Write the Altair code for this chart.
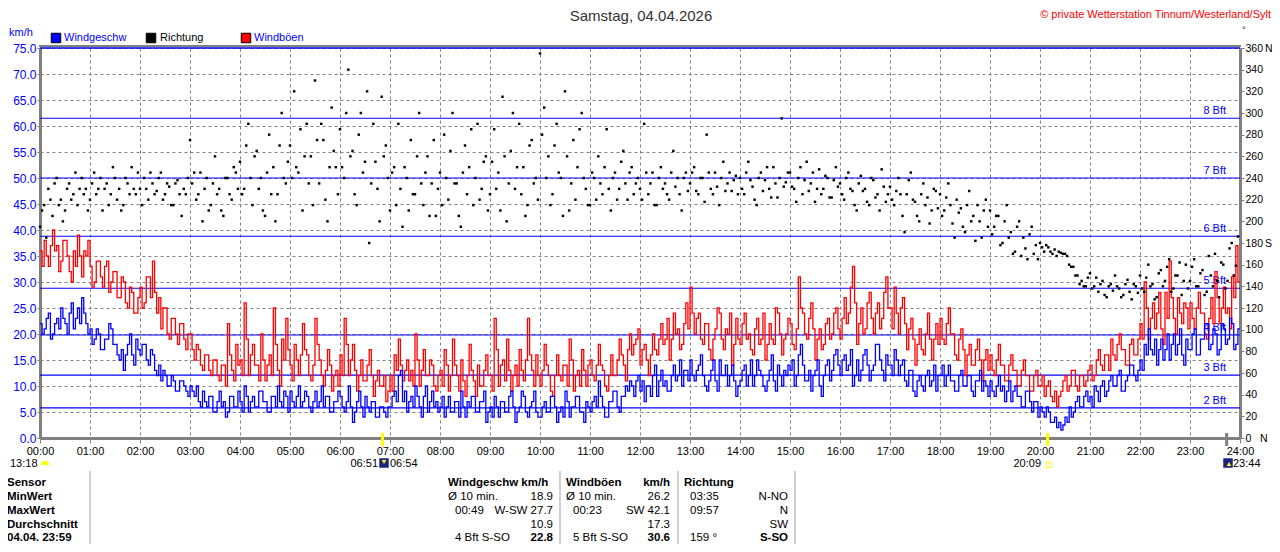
import altair as alt
import pandas as pd

FONT = "Liberation Sans"
BLUE = "#0000ff"
RED = "#ff0000"
GREY = "#808080"
X0, Y0 = 40, 48  # page position of the plot origin

# readings every 2.5 minutes, one row per hour (00:00 .. 23:57:30)
speed_rows = [
    [22, 20, 21, 23, 24, 19, 20, 22, 23, 21, 25, 23, 22, 20, 24, 26, 21, 23, 25, 22, 27, 24, 22, 20],
    [21, 18, 19, 21, 20, 17, 17, 19, 19, 22, 21, 18, 18, 16, 15, 17, 13, 16, 18, 20, 16, 14, 19, 17],
    [16, 18, 18, 15, 14, 17, 16, 13, 12, 14, 11, 13, 12, 10, 10, 12, 11, 9, 9, 11, 11, 10, 9, 8],
    [10, 9, 8, 10, 7, 6, 9, 7, 6, 8, 8, 5, 5, 7, 9, 6, 7, 4, 5, 8, 8, 6, 6, 9],
    [7, 5, 10, 8, 5, 7, 8, 6, 6, 9, 9, 7, 7, 5, 5, 8, 8, 6, 10, 7, 6, 9, 8, 5],
    [9, 7, 6, 8, 10, 6, 7, 9, 8, 6, 5, 7, 9, 6, 7, 10, 6, 8, 8, 5, 5, 7, 7, 9],
    [8, 6, 5, 7, 10, 6, 3, 5, 7, 9, 6, 4, 8, 6, 5, 7, 7, 4, 4, 6, 6, 5, 4, 6],
    [6, 8, 9, 7, 12, 13, 7, 9, 5, 7, 8, 6, 10, 8, 6, 4, 8, 10, 5, 7, 9, 6, 7, 5],
    [6, 8, 4, 6, 8, 5, 5, 7, 7, 4, 9, 6, 4, 7, 6, 8, 8, 5, 5, 7, 7, 9, 3, 5],
    [6, 4, 8, 6, 4, 7, 7, 5, 5, 8, 9, 6, 3, 5, 6, 9, 8, 5, 4, 6, 7, 9, 5, 4],
    [4, 6, 7, 5, 5, 8, 8, 6, 3, 5, 6, 4, 9, 7, 4, 6, 6, 8, 8, 5, 5, 3, 7, 6],
    [5, 7, 8, 6, 11, 8, 6, 4, 4, 7, 7, 9, 9, 6, 5, 8, 8, 10, 9, 11, 10, 8, 11, 12],
    [9, 11, 7, 10, 10, 8, 12, 14, 8, 11, 13, 10, 11, 9, 9, 12, 14, 11, 12, 15, 10, 13, 13, 11],
    [15, 12, 11, 13, 14, 16, 12, 10, 9, 11, 13, 15, 11, 9, 15, 12, 12, 14, 10, 12, 14, 11, 8, 10],
    [11, 13, 14, 10, 12, 15, 10, 12, 15, 13, 12, 10, 9, 11, 13, 16, 11, 9, 14, 12, 10, 13, 12, 14],
    [13, 15, 10, 12, 16, 18, 14, 11, 11, 13, 9, 12, 13, 15, 10, 8, 12, 14, 15, 11, 13, 16, 17, 14],
    [12, 15, 16, 13, 14, 17, 10, 12, 15, 11, 13, 16, 17, 14, 11, 13, 14, 18, 18, 15, 13, 11, 16, 14],
    [14, 12, 17, 15, 12, 14, 15, 11, 10, 13, 13, 9, 8, 11, 12, 10, 9, 12, 13, 10, 11, 14, 9, 12],
    [12, 14, 10, 12, 14, 11, 11, 9, 9, 12, 13, 10, 10, 12, 12, 9, 8, 11, 11, 13, 9, 11, 10, 8],
    [11, 9, 8, 10, 12, 9, 10, 7, 9, 11, 7, 9, 10, 8, 8, 6, 6, 9, 9, 7, 5, 7, 7, 4],
    [6, 5, 4, 6, 5, 3, 3, 4, 2, 3, 1.5, 2.5, 4, 3, 6, 4, 5, 7, 8, 6, 6, 8, 9, 7],
    [8, 6, 10, 9, 7, 10, 11, 8, 9, 11, 12, 10, 10, 12, 13, 9, 9, 11, 12, 14, 14, 12, 11, 13],
    [15, 13, 18, 16, 21, 17, 16, 19, 14, 17, 19, 15, 17, 20, 15, 18, 20, 16, 18, 21, 16, 14, 19, 17],
    [17, 20, 21, 16, 16, 19, 19, 22, 22, 17, 18, 21, 20, 16, 17, 22, 21, 18, 19, 23, 22, 17, 18, 21],
]
gust_rows = [
    [36, 33, 38, 35, 33, 37, 40, 36, 37, 32, 34, 38, 38, 35, 32, 30, 36, 33, 39, 35, 31, 36, 35, 38],
    [33, 29, 30, 34, 34, 31, 29, 33, 34, 28, 30, 32, 32, 27, 27, 31, 30, 26, 25, 29, 28, 24, 24, 27],
    [29, 25, 26, 31, 31, 27, 34, 28, 24, 27, 21, 25, 25, 20, 19, 23, 23, 20, 18, 22, 22, 19, 17, 20],
    [20, 17, 15, 18, 17, 14, 13, 16, 16, 13, 12, 15, 15, 12, 11, 14, 14, 10, 22, 16, 13, 11, 18, 14],
    [15, 12, 26, 19, 12, 16, 18, 14, 14, 11, 20, 15, 11, 14, 16, 12, 25, 18, 13, 10, 19, 15, 23, 17],
    [14, 11, 18, 15, 12, 16, 22, 17, 16, 12, 11, 14, 23, 18, 15, 12, 10, 13, 17, 14, 9, 12, 13, 10],
    [16, 12, 23, 18, 12, 15, 18, 13, 9, 12, 15, 11, 11, 14, 17, 12, 8, 11, 13, 10, 10, 12, 7, 9],
    [12, 9, 16, 13, 19, 14, 11, 13, 15, 11, 13, 10, 20, 15, 10, 13, 17, 12, 12, 15, 14, 10, 9, 12],
    [13, 10, 17, 14, 9, 12, 19, 14, 12, 9, 15, 11, 8, 12, 18, 13, 11, 8, 14, 10, 10, 13, 16, 12],
    [12, 9, 23, 17, 10, 14, 15, 11, 19, 13, 9, 12, 14, 10, 17, 13, 11, 15, 23, 16, 13, 10, 16, 12],
    [10, 13, 18, 14, 12, 9, 8, 12, 16, 12, 11, 14, 14, 10, 19, 15, 9, 12, 13, 10, 17, 13, 10, 14],
    [15, 12, 11, 14, 18, 14, 13, 10, 9, 12, 16, 12, 12, 15, 19, 16, 14, 11, 17, 20, 16, 18, 19, 21],
    [14, 17, 18, 15, 12, 16, 20, 17, 16, 19, 22, 18, 19, 23, 15, 19, 24, 20, 21, 17, 18, 22, 26, 21],
    [29, 24, 20, 23, 24, 19, 18, 22, 22, 17, 15, 19, 21, 25, 24, 19, 17, 21, 20, 24, 14, 18, 23, 19],
    [18, 22, 24, 19, 20, 17, 16, 21, 23, 18, 19, 24, 15, 18, 22, 19, 18, 25, 24, 20, 16, 19, 20, 23],
    [22, 18, 17, 21, 31, 25, 24, 20, 19, 23, 26, 21, 15, 19, 21, 17, 18, 22, 23, 19, 20, 24, 25, 21],
    [19, 23, 27, 22, 24, 29, 33, 26, 18, 22, 25, 20, 21, 26, 28, 23, 20, 24, 26, 21, 23, 28, 31, 25],
    [25, 21, 29, 24, 20, 25, 27, 22, 17, 21, 23, 19, 14, 18, 21, 17, 16, 20, 24, 19, 15, 19, 22, 18],
    [23, 19, 18, 22, 25, 20, 20, 16, 15, 19, 21, 17, 12, 16, 18, 14, 14, 17, 19, 15, 11, 15, 17, 13],
    [16, 13, 12, 15, 18, 14, 14, 11, 11, 14, 16, 13, 13, 10, 10, 13, 15, 12, 12, 9, 9, 12, 13, 10],
    [10, 12, 8, 10, 11, 8, 7, 9, 6, 8, 9, 11, 12, 9, 10, 13, 13, 10, 9, 12, 12, 10, 11, 13],
    [14, 11, 12, 15, 17, 14, 13, 16, 16, 13, 19, 16, 15, 18, 20, 17, 17, 14, 14, 18, 19, 16, 16, 19],
    [22, 19, 30, 25, 19, 23, 26, 21, 24, 28, 21, 18, 28, 23, 34, 27, 23, 20, 27, 24, 22, 26, 25, 21],
    [26, 23, 21, 25, 28, 24, 24, 20, 19, 23, 27, 22, 32, 27, 22, 25, 29, 24, 25, 21, 31, 27, 37, 30],
]
direction_rows = [
    [195, 210, 215, 185, 230, 220, 205, 235, 240, 215, 220, 200, 210, 230, 235, 220, 225, 245, 215, 230, 240, 225, 230, 210],
    [220, 235, 245, 225, 230, 240, 210, 230, 235, 215, 225, 250, 240, 220, 230, 210, 215, 240, 235, 225, 250, 230, 225, 245],
    [230, 215, 240, 230, 220, 245, 235, 225, 228, 240, 245, 220, 225, 235, 232, 215, 215, 235, 238, 225, 205, 230, 225, 240],
    [275, 235, 245, 220, 225, 245, 200, 230, 240, 210, 215, 235, 260, 225, 230, 210, 205, 240, 240, 225, 220, 250, 245, 230],
    [255, 225, 230, 270, 290, 240, 215, 260, 265, 230, 240, 210, 205, 245, 280, 225, 250, 200, 225, 270, 300, 240, 235, 255],
    [270, 240, 320, 250, 245, 285, 210, 260, 290, 235, 260, 215, 330, 275, 235, 290, 275, 220, 200, 250, 305, 265, 250, 225],
    [285, 250, 240, 300, 340, 260, 265, 225, 215, 280, 300, 245, 255, 320, 180, 235, 290, 255, 230, 200, 315, 260, 270, 240],
    [210, 245, 250, 215, 290, 230, 195, 250, 240, 210, 275, 225, 225, 260, 300, 235, 215, 245, 260, 205, 235, 275, 205, 230],
    [245, 215, 280, 240, 220, 265, 300, 235, 235, 205, 195, 245, 270, 225, 250, 285, 215, 240, 290, 220, 230, 255, 260, 210],
    [225, 255, 285, 230, 245, 210, 315, 260, 200, 235, 265, 300, 230, 250, 290, 225, 250, 205, 215, 270, 275, 235, 240, 220],
    [355, 280, 305, 240, 260, 215, 225, 270, 290, 245, 240, 205, 320, 260, 210, 235, 275, 220, 250, 285, 300, 240, 230, 215],
    [215, 245, 240, 220, 260, 235, 225, 250, 285, 230, 210, 240, 245, 220, 230, 255, 265, 235, 220, 245, 250, 225, 235, 240],
    [230, 220, 290, 245, 225, 235, 245, 215, 215, 240, 250, 230, 235, 225, 220, 245, 265, 232, 240, 225, 210, 240, 245, 228],
    [235, 245, 250, 228, 225, 240, 240, 218, 280, 245, 230, 225, 245, 232, 215, 240, 255, 228, 235, 245, 228, 238, 242, 225],
    [240, 230, 225, 245, 255, 238, 232, 220, 215, 240, 245, 228, 238, 250, 230, 222, 250, 235, 222, 240, 295, 232, 236, 245],
    [245, 232, 230, 218, 240, 250, 225, 238, 255, 228, 235, 245, 218, 230, 248, 225, 230, 242, 240, 222, 222, 238, 250, 232],
    [235, 225, 220, 240, 245, 230, 228, 215, 210, 235, 242, 228, 230, 218, 215, 240, 238, 222, 225, 210, 248, 232, 218, 225],
    [232, 220, 215, 228, 240, 225, 205, 190, 225, 238, 245, 220, 218, 205, 200, 225, 235, 215, 222, 198, 210, 230, 228, 212],
    [225, 205, 210, 222, 235, 215, 198, 185, 220, 208, 212, 195, 190, 215, 228, 200, 205, 182, 215, 200, 185, 210, 220, 195],
    [210, 188, 195, 205, 205, 178, 180, 200, 215, 185, 190, 170, 172, 195, 200, 168, 185, 175, 165, 188, 195, 170, 178, 165],
    [180, 176, 172, 178, 176, 172, 170, 174, 168, 172, 171, 170, 170, 168, 160, 158, 158, 150, 150, 142, 145, 140, 140, 148],
    [152, 138, 140, 148, 135, 142, 145, 132, 130, 140, 142, 136, 150, 140, 138, 130, 132, 142, 146, 135, 128, 142, 140, 134],
    [150, 138, 135, 148, 160, 140, 142, 128, 130, 152, 155, 140, 145, 158, 165, 135, 138, 150, 150, 162, 132, 145, 160, 138],
    [145, 158, 165, 140, 140, 152, 155, 132, 135, 168, 150, 140, 170, 145, 130, 162, 160, 138, 145, 175, 180, 150, 159, 186],
]

bft_levels = [5.8, 12.1, 19.8, 28.8, 38.8, 50.0, 61.5]
bft_names = ["2 Bft", "3 Bft", "4 Bft", "5 Bft", "6 Bft", "7 Bft", "8 Bft"]
top_level = [75.0]

hour_ticks = list(range(25))
kmh_ticks = list(range(0, 76, 5))
deg_ticks = list(range(0, 361, 20))

sun_times = [6 + 51 / 60, 20 + 9 / 60]
moon_times = [23 + 44 / 60]

title_text = "Samstag, 04.04.2026"
copyright_text = "© private Wetterstation Tinnum/Westerland/Sylt"

row_labels = ["Sensor", "MinWert", "MaxWert", "Durchschnitt", "04.04. 23:59"]
speed_left = ["Windgeschw km/h", "Ø 10 min.", "00:49", "", "4 Bft S-SO"]
speed_right = ["", "18.9", "W-SW 27.7", "10.9", "22.8"]
gust_left = ["Windböen", "Ø 10 min.", "00:23", "", "5 Bft S-SO"]
gust_right = ["km/h", "26.2", "SW 42.1", "17.3", "30.6"]
dir_left = ["Richtung", "03:35", "09:57", "", "159 °"]
dir_right = ["", "N-NO", "N", "SW", "S-SO"]


def series(rows, name, close=True):
    t, v = [], []
    for h, row in enumerate(rows):
        for k, val in enumerate(row):
            t.append(h + k / len(row))
            v.append(val)
    if close:  # hold the last reading until 24:00
        t.append(24)
        v.append(v[-1])
    return pd.DataFrame({"t": t, name: v})


speed_df = series(speed_rows, "speed")
gust_df = series(gust_rows, "gust")
dir_df = series(direction_rows, "dir", close=False)
bft = pd.DataFrame({"level": bft_levels, "name": bft_names})

x_enc = alt.X(
    "t:Q",
    scale=alt.Scale(domain=[0, 24], nice=False, zero=False),
    axis=alt.Axis(
        values=hour_ticks, title="", grid=True, gridDash=[3, 3], gridColor=GREY,
        labelExpr="(datum.value < 10 ? '0' : '') + datum.value + ':00'",
        domainColor=GREY, domainWidth=3, tickColor=GREY, tickSize=5,
        labelFont=FONT, labelFontSize=11, labelColor="black", labelPadding=2,
        labelFlush=False, labelOverlap=False,
    ),
)
kmh_scale = alt.Scale(domain=[0, 75], nice=False, zero=True)
kmh_axis = alt.Axis(
    values=kmh_ticks, format=".1f", title="", grid=True, gridDash=[3, 3], gridColor=GREY,
    domainColor=GREY, domainWidth=3, tickColor=GREY, tickSize=3,
    labelFont=FONT, labelFontSize=12, labelColor=BLUE, labelPadding=1,
    labelFlush=False, labelOverlap=False,
)
deg_axis = alt.Axis(
    values=deg_ticks, orient="right", title="", grid=False,
    labelExpr="datum.value == 0 ? '0\u00a0\u00a0\u00a0N' : datum.value == 360 ? '360\u2009N' : datum.value == 180 ? '180\u2009S' : datum.label",
    domainColor=GREY, domainWidth=3, tickColor=GREY, tickSize=4,
    labelFont=FONT, labelFontSize=10.5, labelColor="black", labelPadding=1,
    labelFlush=False, labelOverlap=False,
)

top_rule = alt.Chart(pd.DataFrame({"level": top_level})).mark_rule(color=BLUE, strokeWidth=1.5).encode(
    y=alt.Y("level:Q", scale=kmh_scale, axis=kmh_axis)
)
bft_rules = alt.Chart(bft).mark_rule(color=BLUE, strokeWidth=1.1).encode(
    y=alt.Y("level:Q", scale=kmh_scale, axis=kmh_axis)
)
bft_text = alt.Chart(bft).mark_text(
    align="right", baseline="bottom", dy=-2, color=BLUE, font=FONT, fontSize=11
).encode(x=alt.value(1186), y=alt.Y("level:Q", scale=kmh_scale, axis=kmh_axis), text="name:N")

gust_line = alt.Chart(gust_df).mark_line(interpolate="step-after", color=RED, strokeWidth=1.3).encode(
    x=x_enc, y=alt.Y("gust:Q", scale=kmh_scale, axis=kmh_axis)
)
speed_line = alt.Chart(speed_df).mark_line(interpolate="step-after", color=BLUE, strokeWidth=1.3).encode(
    x=x_enc, y=alt.Y("speed:Q", scale=kmh_scale, axis=kmh_axis)
)
sun_ticks = alt.Chart(pd.DataFrame({"t": sun_times})).mark_rule(color="#ffff00", strokeWidth=3).encode(
    x=x_enc, y=alt.value(385), y2=alt.value(398)
)
moon_ticks = alt.Chart(pd.DataFrame({"t": moon_times})).mark_rule(color=GREY, strokeWidth=3).encode(
    x=x_enc, y=alt.value(385), y2=alt.value(398)
)

left = alt.layer(top_rule, bft_rules, bft_text, gust_line, speed_line, sun_ticks, moon_ticks)

dir_points = alt.Chart(dir_df).mark_square(color="black", size=6, opacity=1).encode(
    x=x_enc,
    y=alt.Y("dir:Q", scale=alt.Scale(domain=[0, 360], nice=False, zero=True), axis=deg_axis),
)

plot = alt.layer(left, dir_points).resolve_scale(y="independent")


def note(text, x, y, align="left", color="black", size=11, bold=False):
    return alt.Chart(pd.DataFrame({"s": [text]})).mark_text(
        align=align, baseline="middle", font=FONT, fontSize=size,
        fontWeight="bold" if bold else "normal", color=color,
    ).encode(x=alt.value(x - X0), y=alt.value(y - Y0), text="s:N")


def vline(x, y1, y2, color="#a0a0a0", width=1):
    return alt.Chart(pd.DataFrame({"s": [0]})).mark_rule(color=color, strokeWidth=width).encode(
        x=alt.value(x - X0), y=alt.value(y1 - Y0), y2=alt.value(y2 - Y0)
    )


def hline(y, x1, x2, color=GREY, width=2):
    return alt.Chart(pd.DataFrame({"s": [0]})).mark_rule(color=color, strokeWidth=width).encode(
        y=alt.value(y - Y0), x=alt.value(x1 - X0), x2=alt.value(x2 - X0)
    )


def symbol(x, y, shape, color, size, filled=True, stroke=None):
    kw = {"shape": shape, "size": size, "filled": filled, "opacity": 1}
    if filled:
        kw["fill"] = color
    if stroke:
        kw["stroke"] = stroke
        kw["strokeWidth"] = 1
    else:
        kw["color"] = color
    return alt.Chart(pd.DataFrame({"s": [0]})).mark_point(**kw).encode(
        x=alt.value(x - X0), y=alt.value(y - Y0)
    )


extras = [
    hline(46, 39, 1241),
    note(title_text, 641, 16, align="center", color="#333333", size=15),
    note(copyright_text, 1271, 15, align="right", color=RED, size=11),
    note("°", 1242, 30, size=9),
    note("km/h", 9, 33, color=BLUE),
    symbol(56, 38, "square", BLUE, 90, stroke="black"),
    note("Windgeschw", 64, 38, color=BLUE),
    symbol(151, 38, "square", "black", 90, stroke="black"),
    note("Richtung", 160, 38),
    symbol(246, 38, "square", RED, 90, stroke="black"),
    note("Windböen", 254, 38, color=BLUE),
    # rise / set markers below the time axis
    note("13:18", 10, 464),
    symbol(45, 465, "M -1 0 A 1 1 0 0 1 1 0 Z", "#ffff00", 70),
    note("06:51", 378, 464, align="right"),
    symbol(384, 463, "square", "#1a237e", 90),
    symbol(384, 462, "triangle-down", "#ffff00", 22),
    note("06:54", 390, 464),
    note("20:09", 1041, 464, align="right"),
    symbol(1049, 465, "square", "#ffff00", 30, filled=False, stroke="#ffff00"),
    symbol(1228, 463, "square", "#1a237e", 90),
    symbol(1229, 464, "triangle-up", "#ffff00", 22),
    note("23:44", 1233, 464),
    # table grid
    vline(90, 471, 552),
    vline(560, 471, 552),
    vline(678, 471, 552),
    vline(795, 471, 552),
]

row_y = [483, 497, 511, 525, 538]
for i, y in enumerate(row_y):
    head = i == 0
    last = i == len(row_y) - 1
    indent = 7 if i in (2, 4) else 0
    extras.append(note(row_labels[i], 7, y, bold=True, size=11.5))
    extras.append(note(speed_left[i], 448 + indent, y, bold=head, size=11.5))
    extras.append(note(speed_right[i], 553, y, align="right", bold=last, size=11.5))
    extras.append(note(gust_left[i], 566 + indent, y, bold=head, size=11.5))
    extras.append(note(gust_right[i], 670, y, align="right", bold=head or last, size=11.5))
    extras.append(note(dir_left[i], 684 + (6 if i > 0 else 0), y, bold=head, size=11.5))
    extras.append(note(dir_right[i], 788, y, align="right", bold=last, size=11.5))

chart = alt.layer(plot, *extras).properties(
    width=1200,
    height=390,
    autosize=alt.AutoSizeParams(type="none"),
    padding={"left": 32, "top": 40, "right": 32, "bottom": 106},
    background="white",
).configure_view(stroke=None)

chart.save("out.html", embed_options={"renderer": "svg", "actions": False})
